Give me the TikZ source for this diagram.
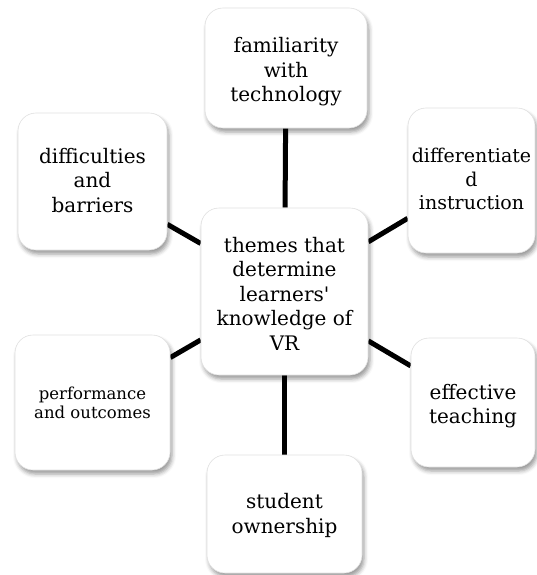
\documentclass[tikz,border=0pt]{standalone}
\usepackage{fontspec}
\newfontfamily\themefont{DejaVu Serif}
\usetikzlibrary{shadows.blur,backgrounds}
\begin{document}
\begin{tikzpicture}[x=1pt,y=-1pt,
  theme/.style={draw=black!12, line width=0.6pt, fill=white, rounded corners=18pt,
    inner sep=0pt,
    blur shadow={shadow xshift=2pt, shadow yshift=-4pt, shadow blur radius=4pt, shadow opacity=40}},
  caption/.style={align=center, inner sep=0pt, font=\themefont\fontsize{20}{24.5}\selectfont},
  small/.style={font=\themefont\fontsize{19}{23.5}\selectfont},
  smaller/.style={font=\themefont\fontsize{16.5}{19}\selectfont},
  link/.style={line width=5pt, black}]
\useasboundingbox (0,0) rectangle (536,575);

% boxes: the hub and the six themes around it
\node[theme, minimum width=167pt, minimum height=167pt] (hub)  at (284.5,291.5) {};
\node[theme, minimum width=162pt, minimum height=120pt] (fam)  at (286,68) {};
\node[theme, minimum width=127pt, minimum height=145pt] (diff) at (471.5,180.5) {};
\node[theme, minimum width=124pt, minimum height=129pt] (eff)  at (473,402.5) {};
\node[theme, minimum width=155pt, minimum height=118pt] (own)  at (284.5,514) {};
\node[theme, minimum width=155pt, minimum height=135pt] (perf) at (92.5,402.5) {};
\node[theme, minimum width=149pt, minimum height=137pt] (barr) at (92.5,181.5) {};

% box texts
\node[caption] (hubtext)  at ([yshift=-2pt]hub.center)
  {themes that\\determine\\learners'\\knowledge of\\VR};
\node[caption] (famtext)  at ([yshift=-4pt]fam.center) {familiarity\\with\\technology};
\node[caption, small] (difftext) at ([yshift=1.5pt]diff.center) {differentiate\\d\\instruction};
\node[caption] (efftext)  at ([yshift=-3.5pt]eff.center) {effective\\teaching};
\node[caption] (owntext)  at ([yshift=-1.5pt]own.center) {student\\ownership};
\node[caption, smaller] (perftext) at (perf.center) {performance\\and outcomes};
\node[caption] (barrtext) at ([yshift=1pt]barr.center) {difficulties\\and\\barriers};

% spokes
\begin{pgfonlayer}{background}
  \foreach \t in {fam,diff,eff,own,perf,barr}
    \draw[link] (hub) -- (\t);
\end{pgfonlayer}
\end{tikzpicture}
\end{document}
